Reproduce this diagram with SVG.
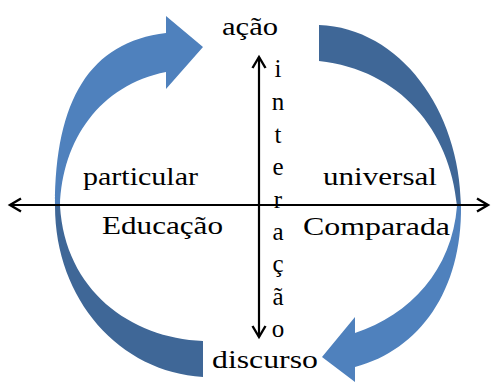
<svg xmlns="http://www.w3.org/2000/svg" width="491" height="383" viewBox="0 0 491 383">
<style>
.light{fill:#4F81BD}
.dark{fill:#3F6797}
.axis{stroke:#000;stroke-width:2.2;fill:none}
text{font-family:'Liberation Serif','Times New Roman',Times,serif;fill:#000}
.lbl{font-size:26px}
.v{font-size:25px;text-anchor:middle}
</style>
<defs>
<marker id="chev" markerUnits="userSpaceOnUse" markerWidth="20" markerHeight="20" refX="15" refY="10" orient="auto-start-reverse">
<path d="M4,3.5 L15,10 L4,16.5" fill="none" stroke="#000" stroke-width="2.4"/>
</marker>
</defs>
<rect width="491" height="383" fill="#fff"/>
<g id="arrow-left">
<path class="dark" d="M55,206 C55,300 120,372 203,377 L203,341 C130,338 65,290 60,206 Z"/>
<path class="light" d="M55,206 C55,100 90,42 166,33 L166,16 L203,47 L166,89 L166,72 C100,85 62,140 60,206 Z"/>
</g>
<g id="arrow-right">
<path class="dark" d="M319,25 C400,28 460,110 461,206 L457,206 C450,130 400,70 319,61 Z"/>
<path class="light" d="M461,206 C462,290 420,350 355,367 L355,382 L322,357 L355,317 L355,333 C410,315 452,270 457,206 Z"/>
</g>
<g id="connectors">
<line class="axis" x1="10" y1="205" x2="488" y2="205" marker-start="url(#chev)" marker-end="url(#chev)"/>
<line class="axis" x1="259" y1="57" x2="259" y2="337" marker-start="url(#chev)" marker-end="url(#chev)"/>
</g>
<g id="node-acao"><text class="lbl" x="222" y="35" textLength="56" lengthAdjust="spacingAndGlyphs">ação</text></g>
<g id="node-discurso"><text class="lbl" x="212" y="368" textLength="106" lengthAdjust="spacingAndGlyphs">discurso</text></g>
<g id="node-particular"><text class="lbl" x="83" y="185" textLength="115" lengthAdjust="spacingAndGlyphs">particular</text></g>
<g id="node-universal"><text class="lbl" x="323" y="185" textLength="114" lengthAdjust="spacingAndGlyphs">universal</text></g>
<g id="node-educacao"><text class="lbl" x="102" y="234" textLength="121" lengthAdjust="spacingAndGlyphs">Educação</text></g>
<g id="node-comparada"><text class="lbl" x="303" y="235" textLength="147" lengthAdjust="spacingAndGlyphs">Comparada</text></g>
<g id="node-interacao">
<text class="v" x="278" y="77">i</text>
<text class="v" x="278" y="110">n</text>
<text class="v" x="278" y="143">t</text>
<text class="v" x="278" y="175">e</text>
<text class="v" x="278" y="208">r</text>
<text class="v" x="278" y="240">a</text>
<text class="v" x="278" y="272">ç</text>
<text class="v" x="278" y="305">ã</text>
<text class="v" x="278" y="337">o</text>
</g>
</svg>
